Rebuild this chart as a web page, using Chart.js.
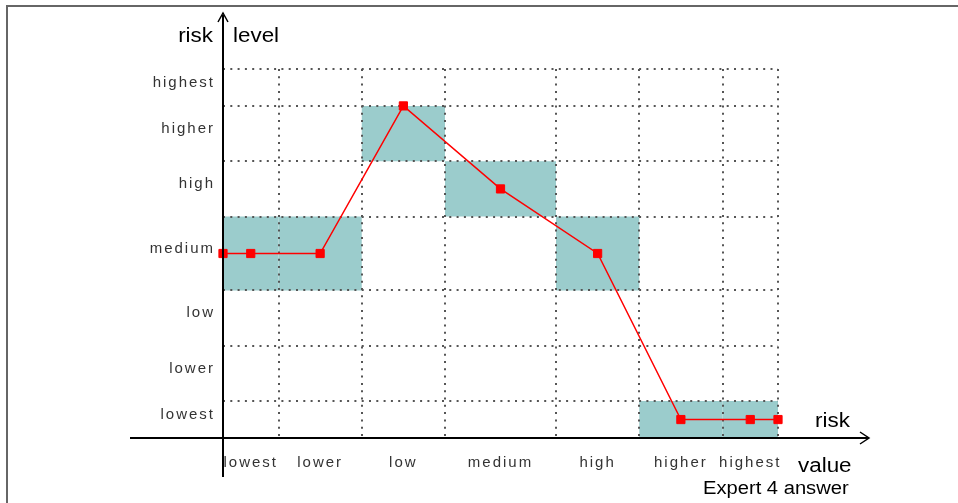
<!DOCTYPE html>
<html><head><meta charset="utf-8">
<script src="https://cdn.jsdelivr.net/npm/chart.js@4.4.1/dist/chart.umd.min.js"></script>
<style>html,body{margin:0;padding:0;background:#fff;} canvas{display:block;}</style>
</head><body>
<canvas id="c" width="958" height="503"></canvas>
<script>
// ---- data ----
const levels = ['lowest', 'lower', 'low', 'medium', 'high', 'higher', 'highest'];
const bounds = [0, 0.1, 0.25, 0.4, 0.6, 0.75, 0.9, 1.0];
const expertAnswer = ['medium', 'medium', 'higher', 'high', 'medium', 'lowest', 'lowest'];
const lineX = [0, 0.05, 0.175, 0.325, 0.5, 0.675, 0.825, 0.95, 1.0];
const lineY = [0.5, 0.5, 0.5, 0.9, 0.675, 0.5, 0.05, 0.05, 0.05];

const centers = levels.map((_, i) => (bounds[i] + bounds[i + 1]) / 2);
const gridTicks = bounds.slice(1);

const TEAL = '#9bcccc';
const RED = '#ff0000';
const GRID = '#555';
const tickFont = { family: '"Liberation Sans", Arial, sans-serif', size: 15 };

const rectDatasets = expertAnswer.map((lvl, i) => {
  const j = levels.indexOf(lvl);
  const x0 = bounds[i], x1 = bounds[i + 1], y0 = bounds[j], y1 = bounds[j + 1];
  return {
    data: [{x: x0, y: y0}, {x: x1, y: y0}, {x: x1, y: y1}, {x: x0, y: y1}, {x: x0, y: y0}],
    showLine: true, fill: 'shape', backgroundColor: TEAL,
    borderColor: 'rgba(0,0,0,0)', borderWidth: 0, pointRadius: 0, pointHoverRadius: 0,
    order: 2, clip: false
  };
});

const lineDataset = {
  data: lineX.map((x, i) => ({x: x, y: lineY[i]})),
  showLine: true, fill: false, tension: 0,
  borderColor: RED, borderWidth: 1.5,
  pointStyle: 'rect', pointRadius: 5.8, pointBorderWidth: 1,
  pointBackgroundColor: RED, pointBorderColor: RED,
  order: 0, clip: false
};

const spacingPlugin = {
  id: 'spacing',
  beforeDraw(chart) { chart.ctx.letterSpacing = '2px'; },
  beforeDatasetsDraw(chart) { chart.ctx.letterSpacing = '0px'; }
};

function stretchText(ctx, txt, x, y, align, font, sx) {
  ctx.save();
  ctx.font = font; ctx.textAlign = align; ctx.textBaseline = 'alphabetic';
  ctx.fillStyle = '#000';
  ctx.translate(x, y); ctx.scale(sx, 1);
  ctx.fillText(txt, 0, 0);
  ctx.restore();
}

const decorPlugin = {
  id: 'decor',
  afterDraw(chart) {
    const ctx = chart.ctx;
    const ox = chart.scales.x.getPixelForValue(0);
    const oy = chart.scales.y.getPixelForValue(0);
    ctx.save();
    ctx.letterSpacing = '0px';
    // frame
    ctx.strokeStyle = '#666'; ctx.lineWidth = 2; ctx.setLineDash([]);
    ctx.beginPath(); ctx.moveTo(7, 503); ctx.lineTo(7, 6); ctx.lineTo(958, 6); ctx.stroke();
    // axes
    ctx.strokeStyle = '#000'; ctx.lineWidth = 2;
    ctx.beginPath();
    ctx.moveTo(130, oy); ctx.lineTo(868, oy);
    ctx.moveTo(ox, 477); ctx.lineTo(ox, 15);
    ctx.stroke();
    // arrow heads
    ctx.lineWidth = 1.5;
    ctx.beginPath();
    ctx.moveTo(860, oy - 6); ctx.lineTo(869, oy); ctx.lineTo(860, oy + 6);
    ctx.moveTo(ox - 5, 22); ctx.lineTo(ox, 13); ctx.lineTo(ox + 5, 22);
    ctx.stroke();
    ctx.restore();
    // axis titles
    const big = '20px "Liberation Sans", Arial, sans-serif';
    stretchText(ctx, 'risk', 213, 42, 'right', big, 1.12);
    stretchText(ctx, 'level', 233, 42, 'left', big, 1.12);
    stretchText(ctx, 'risk', 815, 427, 'left', big, 1.12);
    stretchText(ctx, 'value', 798, 472, 'left', big, 1.12);
    stretchText(ctx, 'Expert 4 answer', 703, 494, 'left', '18px "Liberation Sans", Arial, sans-serif', 1.12);
  }
};

new Chart(document.getElementById('c'), {
  type: 'scatter',
  data: { datasets: [lineDataset, ...rectDatasets] },
  options: {
    responsive: false, animation: false, devicePixelRatio: 1,
    layout: { padding: { left: 0, top: 69, right: 180, bottom: 0 } },
    plugins: {
      legend: { display: false }, tooltip: { enabled: false },
      filler: { drawTime: 'beforeDraw' }
    },
    scales: {
      x: {
        type: 'linear', position: 'bottom', min: 0, max: 1,
        afterBuildTicks: s => { s.ticks = centers.map(v => ({value: v})); },
        ticks: { autoSkip: false, maxRotation: 0, padding: 16, color: '#333', font: tickFont,
                 callback: (v, i) => levels[i] },
        grid: { display: false, drawTicks: false },
        border: { display: false },
        afterFit: s => { s.height = 65; }
      },
      xg: {
        type: 'linear', position: 'bottom', min: 0, max: 1,
        afterBuildTicks: s => { s.ticks = gridTicks.map(v => ({value: v})); },
        ticks: { display: false },
        grid: { display: true, drawTicks: false, color: GRID, lineWidth: 2, borderDash: [2, 5.3] },
        border: { display: false, dash: [2, 5.3] },
        afterFit: s => { s.height = 0; }
      },
      y: {
        type: 'linear', position: 'left', min: 0, max: 1,
        afterBuildTicks: s => { s.ticks = centers.map(v => ({value: v})); },
        ticks: { autoSkip: false, padding: 8, labelOffset: -5, color: '#333', font: tickFont,
                 callback: (v, i) => levels[i] },
        grid: { display: false, drawTicks: false },
        border: { display: false },
        afterFit: s => { s.width = 223; }
      },
      yg: {
        type: 'linear', position: 'left', min: 0, max: 1,
        afterBuildTicks: s => { s.ticks = gridTicks.map(v => ({value: v})); },
        ticks: { display: false },
        grid: { display: true, drawTicks: false, color: GRID, lineWidth: 2, borderDash: [2, 5.3] },
        border: { display: false, dash: [2, 5.3] },
        afterFit: s => { s.width = 0; }
      }
    }
  },
  plugins: [spacingPlugin, decorPlugin]
});
</script>
</body></html>
